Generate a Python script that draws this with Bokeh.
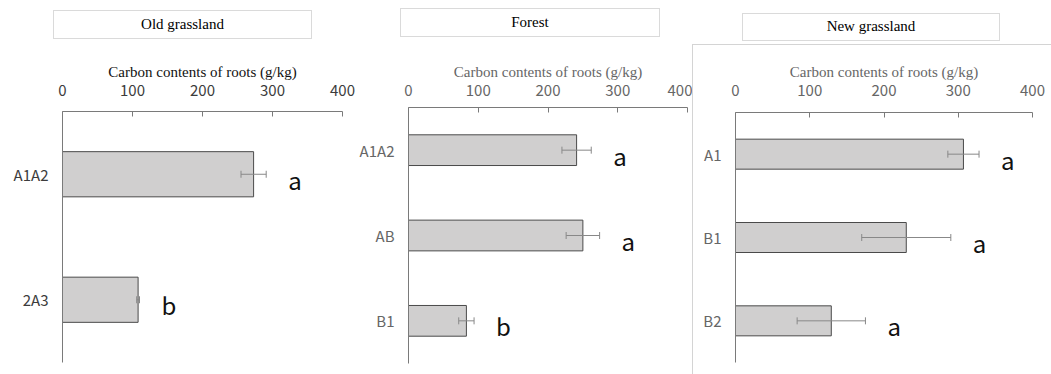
from bokeh.plotting import figure
from bokeh.layouts import row, column
from bokeh.models import (ColumnDataSource, FactorRange, Range1d, FixedTicker,
                          Whisker, TeeHead, Div)
from bokeh.core.properties import value
from bokeh.embed import file_html
from bokeh.resources import INLINE

# Shared x axis
x_ticks = [0, 100, 200, 300, 400]
axis_title = "Carbon contents of roots (g/kg)"

# Old grassland
old_layers = ["A1A2", "2A3"]
old_carbon = [273, 108]
old_sd = [18, 2]
old_letters = ["a", "b"]

# Forest
forest_layers = ["A1A2", "AB", "B1"]
forest_carbon = [241, 250, 83]
forest_sd = [21, 24, 11]
forest_letters = ["a", "a", "b"]

# New grassland
new_layers = ["A1", "B1", "B2"]
new_carbon = [307, 230, 129]
new_sd = [21, 60, 46]
new_letters = ["a", "a", "a"]

SERIF = "Liberation Serif"
SANS = "Noto Sans CJK JP"
DIV_H = 44
FIG_H = 374 - DIV_H


def title_box(text, width, left, top, box_w, box_h):
    html = (
        f'<div style="padding:{top}px 0 0 {left}px;">'
        f'<div style="width:{box_w}px;height:{box_h}px;box-sizing:border-box;'
        f'border:1px solid #dadada;display:flex;align-items:center;'
        f'justify-content:center;font-family:\'{SERIF}\';font-size:15px;'
        f'color:#000;">{text}</div></div>'
    )
    return Div(text=html, width=width, height=DIV_H, margin=0)


def panel(layers, carbon, sd, letters, width, borders, tick_standoff,
          text_color, title_color, framed=False):
    src = ColumnDataSource(dict(
        layer=layers,
        carbon=carbon,
        lo=[c - s for c, s in zip(carbon, sd)],
        hi=[c + s for c, s in zip(carbon, sd)],
        letter=letters,
    ))
    left, right, top, bottom = borders
    p = figure(width=width, height=FIG_H,
               y_range=FactorRange(factors=list(reversed(layers))),
               x_range=Range1d(0, 400), x_axis_location="above",
               output_backend="svg", toolbar_location=None,
               min_border_left=left, min_border_right=right,
               min_border_top=top, min_border_bottom=bottom)
    p.hbar(y="layer", left=0, right="carbon", height=0.36, source=src,
           fill_color="#d0cfcf", line_color="#4a4a4a", line_width=1)
    # error bars drawn above the bars
    p.add_layout(Whisker(source=src, base="layer", lower="lo", upper="hi",
                         dimension="width", level="overlay",
                         line_color="#888888", line_width=1,
                         upper_head=TeeHead(size=7, line_color="#888888"),
                         lower_head=TeeHead(size=7, line_color="#888888")))
    p.text(x="hi", y="layer", text="letter", source=src, x_offset=22, y_offset=5,
           text_align="left", text_baseline="middle",
           text_font=value(SANS), text_font_size="24px", text_color="#111111")

    xa = p.xaxis[0]
    xa.ticker = FixedTicker(ticks=x_ticks)
    xa.axis_label = axis_title
    xa.axis_label_text_font = SERIF
    xa.axis_label_text_font_size = "15px"
    xa.axis_label_text_font_style = "normal"
    xa.axis_label_text_color = title_color
    xa.axis_label_standoff = 2
    xa.major_label_text_font = SANS
    xa.major_label_text_font_size = "15px"
    xa.major_label_text_color = text_color
    xa.major_label_standoff = tick_standoff
    xa.major_tick_in = 5
    xa.major_tick_out = 0
    xa.minor_tick_line_color = None
    xa.major_tick_line_color = "#7a7a7a"
    xa.axis_line_color = "#7a7a7a"

    ya = p.yaxis[0]
    ya.major_label_text_font = SANS
    ya.major_label_text_font_size = "15px"
    ya.major_label_text_color = text_color
    ya.major_label_standoff = 14
    ya.major_tick_in = 0
    ya.major_tick_out = 0
    ya.axis_line_color = "#7a7a7a"

    p.grid.visible = False
    p.outline_line_color = None
    p.background_fill_color = "white"
    if framed:
        p.border_fill_alpha = 0
        p.styles = {"box-shadow": "inset 1px 1px 0 0 #d4d4d4"}
    return p


p1 = panel(old_layers, old_carbon, old_sd, old_letters, 355,
           (62, 13, 67, 12), 16, "#3c3c3c", "#111111")
p2 = panel(forest_layers, forest_carbon, forest_sd, forest_letters, 337,
           (53, 5, 63, 11), 12, "#666666", "#666666")
p3 = panel(new_layers, new_carbon, new_sd, new_letters, 359,
           (43, 19, 68, 12), 17, "#666666", "#666666", framed=True)

d1 = title_box("Old grassland", 355, 53, 10, 259, 29)
d2 = title_box("Forest", 337, 45, 8, 260, 29)
d3 = title_box("New grassland", 359, 50, 13, 258, 28)

layout = row(column(d1, p1, spacing=0), column(d2, p2, spacing=0),
             column(d3, p3, spacing=0), spacing=0)

open("out.html", "w").write(file_html(layout, INLINE))
